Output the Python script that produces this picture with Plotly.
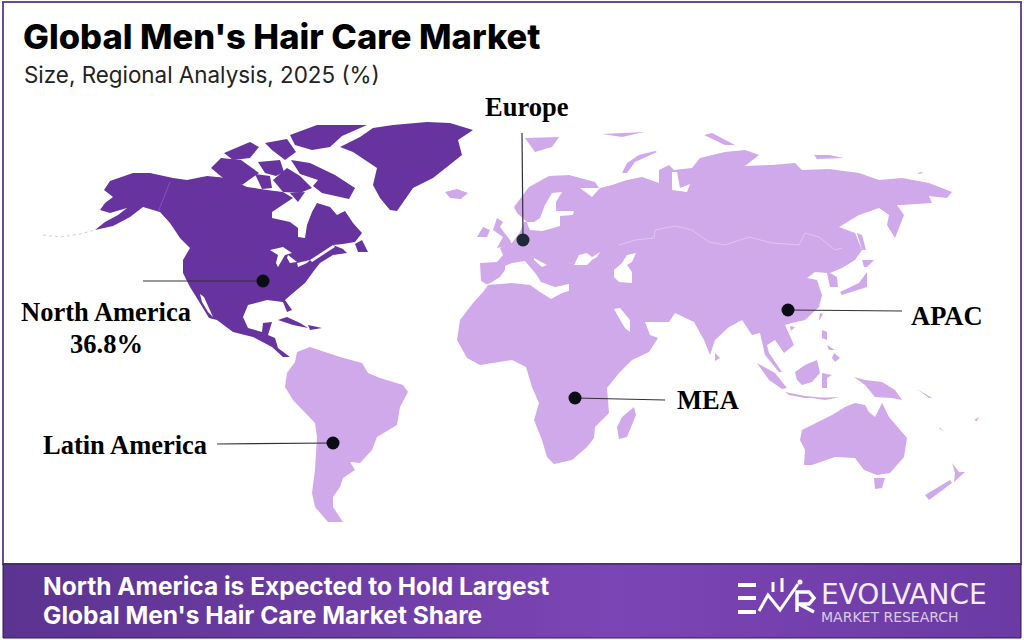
import plotly.graph_objects as go

# colours
DARK = '#66339f'
LIGHT = '#cfa9e9'
FRAME = '#6b4a8f'

north_america = [(110,181),(133,173),(150,173),(173,178),(187,180),(207,176),(227,178),(247,187),(267,190),(283,192),
    (293,198),(283,205),(272,212),(272,218),(290,222),(298,228),(298,237),(305,238),(307,225),(312,212),(317,203),
    (330,207),(337,215),(345,211),(353,223),(362,233),(355,242),(343,244),(333,245),(343,249),(347,253),(333,255),
    (320,263),(313,272),(305,283),(293,293),(285,300),(292,310),(287,312),(283,302),(267,300),(248,305),(243,317),
    (248,328),(262,332),(263,323),(272,322),(268,335),(275,338),(278,348),(290,357),(283,357),(272,347),(253,337),
    (233,332),(217,320),(209,318),(195,295),(190,287),(183,273),(183,260),(190,248),(180,238),(170,223),(160,212),
    (143,207),(130,217),(113,226),(95,230),(105,222),(118,215),(127,208),(110,213),(100,210),(105,203),(113,197),
    (104,190)]
baffin = [(291,160),(310,163),(335,175),(355,188),(349,199),(337,196),(322,193),(313,186),(318,180),(300,174)]
melville = [(273,180),(287,168),(300,176),(312,188),(300,193),(283,192)]
boothia = [(255,174),(270,176),(272,188),(262,189)]
victoria = [(211,168),(221,158),(241,160),(259,173),(242,185),(223,178)]
banks = [(224,153),(250,142),(259,147),(250,158),(233,160)]
ellesmere = [(290,135),(317,125),(367,125),(342,136),(330,147),(312,150),(295,145)]
devon = [(265,143),(287,139),(296,152),(285,160),(272,150)]
somerset = [(258,162),(280,160),(284,172),(276,176),(265,173)]
southampton = [(290,193),(305,192),(298,202)]
newfoundland = [(355,244),(362,240),(368,252),(358,252)]
greenland = [(340,147),(360,137),(373,128),(393,125),(427,122),(450,123),(473,130),(458,140),(462,155),(443,170),
    (433,178),(413,188),(397,211),(390,210),(380,198),(373,185),(377,168),(353,152)]
cuba = [(278,320),(287,317),(300,323),(308,328),(293,325)]
hispaniola = [(308,325),(322,328),(310,330)]

eurasia_africa = [(514,207),(529,187),(549,176),(569,175),(595,182),(599,188),(580,188),(592,197),(600,188),(612,185),
    (627,180),(642,177),(659,183),(659,170),(669,165),(674,170),(692,168),(700,158),(725,152),(745,150),(759,155),
    (745,166),(772,165),(795,163),(802,170),(829,169),(859,173),(879,180),(902,178),(929,183),(952,192),(947,198),
    (929,196),(932,203),(902,205),(897,205),(904,215),(895,238),(887,225),(889,215),(879,208),(859,215),(839,227),
    (855,233),(862,250),(855,260),(842,268),(830,273),(837,277),(838,287),(830,287),(827,273),(815,272),(807,278),
    (817,280),(822,295),(819,307),(805,320),(792,323),(785,325),(794,345),(784,353),(775,340),(767,345),(769,353),
    (782,372),(779,372),(765,355),(760,333),(752,335),(742,320),(729,327),(715,340),(710,355),(704,340),(694,322),
    (675,313),(669,322),(645,322),(650,335),(658,338),(649,352),(632,360),(619,373),(607,388),(609,413),(595,427),
    (594,438),(587,447),(572,460),(554,464),(547,457),(542,440),(534,420),(539,403),(532,387),(526,367),(512,360),
    (480,365),(467,358),(457,340),(460,320),(473,303),(483,292),(488,285),(481,281),(480,263),(497,262),(503,255),
    (500,248),(512,243),(520,232),(524,222),(527,222),(517,213)]
south_america = [(297,352),(310,347),(340,357),(362,363),(368,373),(380,378),(403,385),(408,392),(400,407),(397,425),
    (377,437),(372,450),(360,463),(350,462),(355,470),(343,478),(340,487),(333,497),(333,507),(343,522),(328,522),
    (315,507),(312,493),(315,470),(317,437),(315,423),(293,400),(285,387),(287,373),(295,362)]
australia = [(802,430),(832,415),(845,407),(855,403),(865,405),(869,412),(875,417),(882,403),(889,417),(907,438),
    (904,457),(890,473),(877,475),(864,470),(855,458),(835,457),(812,465),(804,465),(805,450),(800,440)]
iceland = [(445,192),(457,189),(468,193),(461,199),(450,198)]
great_britain = [(497,218),(503,222),(500,227),(510,240),(512,245),(497,248),(503,237),(493,230)]
ireland = [(477,237),(483,227),(490,230),(487,237)]
spitsbergen = [(525,138),(559,137),(552,147),(535,152)]
franz_josef = [(602,134),(644,132),(622,137)]
severnaya = [(704,135),(712,133),(735,145),(725,145)]
new_siberian = [(814,155),(829,155),(844,158),(825,159),(817,159)]
wrangel = [(917,173),(924,172),(920,174)]
novaya_zemlya = [(655,151),(639,155),(627,163),(622,173),(627,173),(635,162),(657,152)]
madagascar = [(634,407),(636,415),(627,437),(619,439),(617,427),(622,417)]
sri_lanka = [(715,353),(720,358),(715,361)]
taiwan = [(820,313),(823,314),(819,321)]
hainan = [(790,326),(795,327),(791,331)]
luzon = [(822,330),(827,332),(827,340),(822,338)]
mindanao = [(834,353),(840,358),(835,362),(832,358)]
visayas = [(827,345),(835,350),(829,350)]
sumatra = [(757,363),(775,373),(787,388),(782,389),(769,380)]
java = [(785,392),(805,396),(825,398),(805,398),(789,395)]
sunda = [(812,398),(840,397),(825,400)]
borneo = [(795,372),(805,365),(817,360),(820,373),(812,382),(802,385),(797,380)]
sulawesi = [(822,373),(832,375),(827,378),(827,388),(822,388)]
new_guinea = [(854,377),(865,380),(882,382),(895,390),(902,400),(892,398),(875,397),(865,385)]
tasmania = [(874,478),(885,478),(882,488),(875,489)]
nz_north = [(952,463),(959,472),(965,472),(954,482),(955,473)]
nz_south = [(950,480),(952,483),(929,500),(925,495)]
sakhalin = [(857,233),(862,235),(866,250),(862,250)]
hokkaido = [(862,260),(874,260),(867,267),(864,267)]
honshu = [(867,272),(867,287),(842,295),(840,292),(859,283)]
new_caledonia = [(939,427),(945,432),(940,429)]
fiji = [(974,420),(979,417),(977,421)]
solomon = [(917,389),(932,398),(929,398)]

# seas and lakes sit on top of the land
mediterranean = [(486,285),(492,282),(500,277),(505,270),(505,266),(512,263),(525,261),(530,267),(536,274),(541,282),
    (555,287),(569,284),(569,291),(562,293),(551,299),(540,292),(530,285),(512,283),(500,284)]
adriatic = [(534,258),(547,265),(542,267),(534,260)]
black_sea = [(574,265),(579,255),(587,253),(592,257),(600,252),(597,257),(592,260),(587,265),(577,265)]
caspian = [(614,270),(622,263),(627,255),(636,253),(632,262),(627,265),(632,272),(632,283),(619,282),(614,277)]
persian_gulf = [(614,309),(620,308),(630,320),(630,332),(625,328),(619,318)]
baltic = [(527,222),(534,222),(540,218),(545,205),(552,193),(562,192),(556,202),(556,211),(574,211),(573,215),
    (560,216),(560,226),(550,229),(542,231),(530,230),(528,226)]
gulf_california = [(200,294),(204,297),(213,317),(208,312),(202,302)]
superior = [(270,250),(283,247),(292,253),(285,255),(278,267),(276,263),(278,255)]
huron = [(288,255),(297,262),(290,263),(287,258)]
erie = [(297,263),(310,260),(307,263),(298,267)]
st_lawrence = [(310,260),(333,245),(335,247),(312,262)]
ob_gulf = [(672,172),(677,172),(680,188),(690,184),(687,192),(672,190)]

dark_land = [north_america, baffin, melville, boothia, victoria, banks, ellesmere, devon, somerset, southampton,
             newfoundland, greenland, cuba, hispaniola]
light_land = [eurasia_africa, south_america, australia, iceland, great_britain, ireland, spitsbergen, franz_josef,
              severnaya, new_siberian, wrangel, novaya_zemlya, madagascar, sri_lanka, taiwan, hainan, luzon, mindanao,
              visayas, sumatra, java, sunda, borneo, sulawesi, new_guinea, tasmania, nz_north, nz_south, sakhalin,
              hokkaido, honshu, new_caledonia, fiji, solomon]
water = [mediterranean, adriatic, black_sea, caspian, persian_gulf, baltic, gulf_california, superior, huron, erie,
         st_lawrence, ob_gulf]

asia_border = [(619,245),(635,240),(654,238),(655,230),(675,226),(692,230),(709,242),(725,245),(749,237),(772,243),
               (799,245),(805,233),(819,237),(835,250),(842,248)]
alaska_border = [(170,182),(158,212)]
aleutians = [(43,235),(60,237),(80,234),(95,230)]

# region labels and their callouts
regions = ['Europe', 'North America', 'Latin America', 'MEA', 'APAC']
label_x = [527, 106, 125, 708, 947]
label_y = [107, 312, 445, 400, 316]
dot_x = [523, 263, 333, 575, 788]
dot_y = [240, 281, 443, 398, 310]
dot_colours = ['#1e2a38', '#0c0c14', '#0c0c14', '#0c0c14', '#0c0c14']
line_end_x = [522, 143, 217, 665, 902]
line_end_y = [133, 281, 444, 400, 311]
na_share = '36.8%'

title = "Global Men's Hair Care Market"
subtitle = 'Size, Regional Analysis, 2025 (%)'
footer_lines = ['North America is Expected to Hold Largest', "Global Men's Hair Care Market Share"]

fig = go.Figure()


def add_area(points, colour):
    xs, ys = zip(*points)
    fig.add_trace(go.Scatter(x=xs, y=ys, mode='lines', fill='toself', fillcolor=colour,
                             line=dict(width=0, color=colour), hoverinfo='skip'))


def add_line(points, colour, width, dash='solid'):
    xs, ys = zip(*points)
    fig.add_trace(go.Scatter(x=xs, y=ys, mode='lines', line=dict(width=width, color=colour, dash=dash),
                             hoverinfo='skip'))


for area in dark_land:
    add_area(area, DARK)
for area in light_land:
    add_area(area, LIGHT)
for area in water:
    add_area(area, 'white')
add_line(asia_border, '#e3cdf3', 0.8)
add_line(alaska_border, '#8a60b8', 0.8)
add_line(aleutians, '#c9bcd8', 0.8, dash='dot')

# footer band
fig.add_trace(go.Scatter(x=[3, 1021, 1021, 3, 3], y=[564, 564, 638, 638, 564], mode='lines', fill='toself',
                         line=dict(width=1, color='#2d1f4d'), hoverinfo='skip',
                         fillgradient=dict(type='horizontal', colorscale=[[0, '#5b3390'], [0.6, '#7c45b5'],
                                                                          [1, '#6b3aa3']])))

# callouts
for i in range(len(regions)):
    add_line([(dot_x[i], dot_y[i]), (line_end_x[i], line_end_y[i])], '#33303a', 1.2)
fig.add_trace(go.Scatter(x=dot_x, y=dot_y, mode='markers', marker=dict(size=13, color=dot_colours), hoverinfo='skip'))

# logo: bars, zigzag and the R
for y_bar in [585, 598, 612]:
    add_line([(738, y_bar), (756, y_bar)], 'white', 4)
add_line([(759, 611), (768, 595), (780, 610), (798, 584)], 'white', 3)
add_line([(773, 592), (773, 582)], 'white', 3)
add_line([(782, 592), (782, 578)], 'white', 3)
add_line([(797, 612), (797, 592), (809, 592), (814, 598), (809, 604), (799, 604), (814, 612)], 'white', 3.5)
fig.add_trace(go.Scatter(x=[800], y=[582], mode='markers', marker=dict(size=5, color='white'), hoverinfo='skip'))

annotations = []


def add_text(text, x, y, size, family, colour='black', anchor='center', bold=False, weight=None):
    if bold:
        text = '<b>' + text + '</b>'
    font = dict(size=size, family=family, color=colour)
    if weight:
        font['weight'] = weight
    annotations.append(dict(text=text, x=x, y=y, xref='x', yref='y', showarrow=False, xanchor=anchor, yanchor='middle',
                            font=font, align=anchor))


add_text(title, 21, 36, 34.5, 'Inter', anchor='left', weight=800)
add_text(subtitle, 22, 74, 22.4, 'Inter', colour='#222222', anchor='left')
for i in range(len(regions)):
    add_text(regions[i], label_x[i], label_y[i], 26.5, 'Liberation Serif', bold=True)
add_text(na_share, 106, 344, 26.5, 'Liberation Serif', bold=True)
add_text(footer_lines[0], 41, 586, 24.5, 'Inter', colour='white', anchor='left', bold=True)
add_text(footer_lines[1], 41, 615, 24.5, 'Inter', colour='white', anchor='left', bold=True)
# the logo wordmark is one text block, so the two lines keep their tight spacing
add_text('<span style="font-size:28px;color:#f2ecf8">EVOLVANCE</span><br>MARKET RESEARCH', 819, 601, 14,
         'DejaVu Sans', colour='#d9cbe8', anchor='left')

fig.update_layout(
    width=1024, height=640,
    margin=dict(l=0, r=0, t=0, b=0),
    paper_bgcolor='white', plot_bgcolor='white',
    showlegend=False,
    xaxis=dict(range=[0, 1024], visible=False, fixedrange=True),
    yaxis=dict(range=[640, 0], visible=False, fixedrange=True),
    annotations=annotations,
    shapes=[dict(type='rect', x0=3, y0=2, x1=1021, y1=564, line=dict(color=FRAME, width=2), layer='below')],
)
fig.write_html("out.html", config={'displayModeBar': False}, post_script="document.body.style.margin='0';")
